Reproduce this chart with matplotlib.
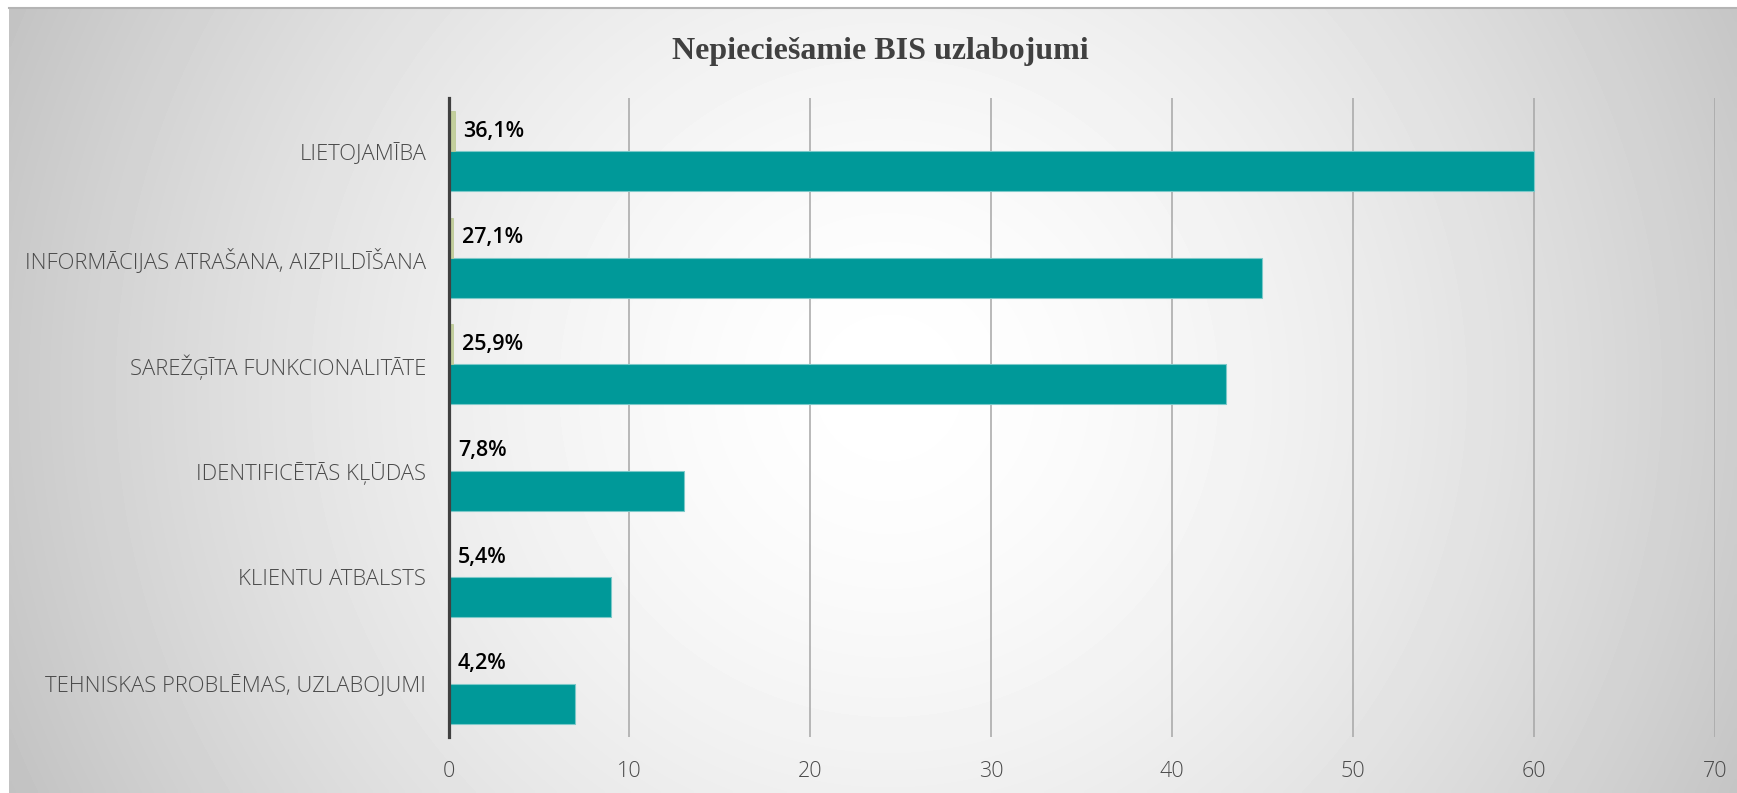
import numpy as np
import matplotlib.pyplot as plt

# -----------------------------
# data
# -----------------------------
categories = [
    "LIETOJAMĪBA",
    "INFORMĀCIJAS ATRAŠANA, AIZPILDĪŠANA",
    "SAREŽĢĪTA FUNKCIONALITĀTE",
    "IDENTIFICĒTĀS KĻŪDAS",
    "KLIENTU ATBALSTS",
    "TEHNISKAS PROBLĒMAS, UZLABOJUMI",
]
counts = [60, 45, 43, 13, 9, 7]
shares = [0.361, 0.271, 0.259, 0.078, 0.054, 0.042]
xticks = [0, 10, 20, 30, 40, 50, 60, 70]

W, H = 1737, 793
fig = plt.figure(figsize=(W / 100, H / 100), dpi=100)
fig.patch.set_facecolor("white")

# -----------------------------
# gradient background (radial, light centre)
# -----------------------------
bg = fig.add_axes([9 / W, 0, 1 - 9 / W, (H - 8) / H], zorder=0)
gx, gy = np.meshgrid(np.linspace(0, 1728, 400), np.linspace(0, 785, 200))
cx, cy = 880, 380
d = np.sqrt((gx - cx) ** 2 + (gy - cy) ** 2) / np.sqrt(cx ** 2 + (785 - cy) ** 2)
shade = 1 - 0.24 * np.clip(d, 0, 1.2) ** 1.6
bg.imshow(shade, cmap="gray", vmin=0, vmax=1, aspect="auto",
          extent=[0, 1, 0, 1], interpolation="bilinear")
bg.set_xlim(0, 1)
bg.set_ylim(0, 1)
bg.axis("off")
bg.plot([0, 1], [1, 1], color="#b4b4b4", lw=1.5, transform=bg.transAxes, clip_on=False)

# -----------------------------
# bars
# -----------------------------
ax = fig.add_axes([448.5 / W, (H - 737) / H, (1714.7 - 448.5) / W, (737 - 98) / H], zorder=1)
ax.set_facecolor("none")

y = np.arange(len(categories))
h = 0.376
ax.barh(y + h / 2, counts, height=h, color="#009999", edgecolor="#7cc9c9", linewidth=0.8, zorder=3)
ax.barh(y - h / 2, shares, height=h, color="#c3cf9c", edgecolor="#b8c68e", linewidth=0.5, zorder=3)

for yi, s in zip(y, shares):
    lbl = f"{s * 100:.1f}%".replace(".", ",")
    ax.annotate(lbl, (s, yi - h / 2), xytext=(6, 0), textcoords="offset points",
                ha="left", va="center", fontsize=15.5, color="black",
                fontfamily="Open Sans", fontweight="semibold", zorder=4)

ax.set_xlim(0, 70)
ax.set_ylim(len(categories) - 0.5, -0.5)
ax.set_xticks(xticks)
ax.set_yticks(y)
ax.set_yticklabels(categories)

for lab in ax.get_yticklabels():
    lab.set_fontfamily("Open Sans")
    lab.set_fontweight("light")
for lab in ax.get_xticklabels():
    lab.set_fontfamily("Open Sans")
    lab.set_fontweight("light")

ax.tick_params(axis="y", length=0, pad=16, labelsize=15.8, labelcolor="#4a4a4a")
ax.tick_params(axis="x", length=0, pad=17, labelsize=15.5, labelcolor="#4a4a4a")

ax.grid(axis="x", color="#a6a6a6", linewidth=1.1, zorder=1)
ax.set_axisbelow(True)
for side in ["top", "right", "bottom"]:
    ax.spines[side].set_visible(False)
ax.spines["left"].set_color("#404040")
ax.spines["left"].set_linewidth(2.3)
ax.spines["left"].set_zorder(5)

fig.text(880 / W, 1 - 52 / H, "Nepiecie\u0161amie BIS uzlabojumi",
         ha="center", va="center", fontsize=23, fontweight="bold",
         fontfamily="Liberation Serif", color="#404040")

fig.savefig("out.png", dpi=100)
